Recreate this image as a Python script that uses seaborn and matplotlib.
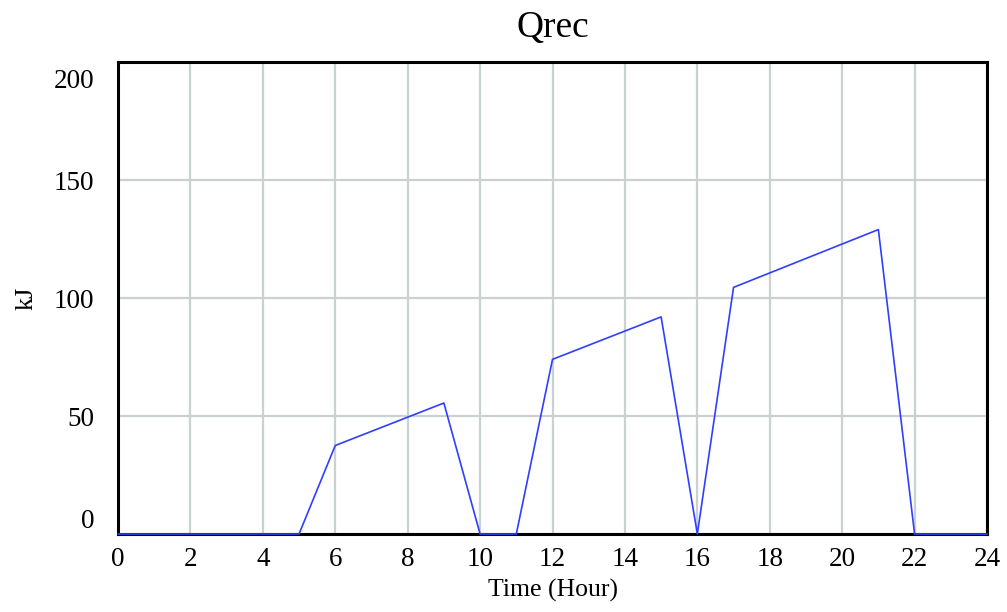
import matplotlib
matplotlib.use("Agg")
import matplotlib.pyplot as plt
import matplotlib.transforms as mtransforms
import seaborn as sns
import pandas as pd

# Data
time_hours = [0, 5, 6, 9, 10, 11, 12, 15, 16, 17, 21, 22, 24]
qrec_kj = [0, 0, 37.5, 55.5, 0, 0, 74, 92, 0, 104.5, 129, 0, 0]
x_ticks = list(range(0, 25, 2))
y_ticks = [0, 50, 100, 150, 200]

sns.set_theme(style="white")
plt.rcParams['font.family'] = ['Liberation Serif', 'DejaVu Serif']

df = pd.DataFrame({"Time (Hour)": time_hours, "kJ": qrec_kj})

fig = plt.figure(figsize=(10.07, 6.12), dpi=100)
ax = fig.add_axes([118/1007, 1 - 534/612, (987 - 118)/1007, (534 - 62)/612])

sns.lineplot(data=df, x="Time (Hour)", y="kJ", ax=ax, color="#2f3fff",
             linewidth=1.2, clip_on=False, zorder=4)

ax.set_xlim(0, 24)
ax.set_ylim(0, 200)
ax.set_xticks(x_ticks)
ax.set_yticks(y_ticks)
ax.grid(True, color="#c9d1d1", linewidth=1.6)
ax.set_axisbelow(True)
for s in ax.spines.values():
    s.set_color("black")
    s.set_linewidth(2.2)

ax.tick_params(axis="both", length=0, labelsize=19.5, colors="black")
ax.tick_params(axis="x", pad=9)
ax.tick_params(axis="y", pad=17)

# Vensim-style: shift top and bottom y labels inward
labels = ax.get_yticklabels()
labels[0].set_transform(labels[0].get_transform() +
                        mtransforms.ScaledTranslation(0, 15/100, fig.dpi_scale_trans))
labels[-1].set_transform(labels[-1].get_transform() +
                         mtransforms.ScaledTranslation(0, -17/100, fig.dpi_scale_trans))

ax.set_xlabel("Time (Hour)", fontsize=18.5, labelpad=5, color="black")
ax.set_ylabel("kJ", fontsize=19, labelpad=12, color="black")
ax.set_title("Qrec", fontsize=27, pad=18, color="black")

fig.savefig("out.png", dpi=100)
